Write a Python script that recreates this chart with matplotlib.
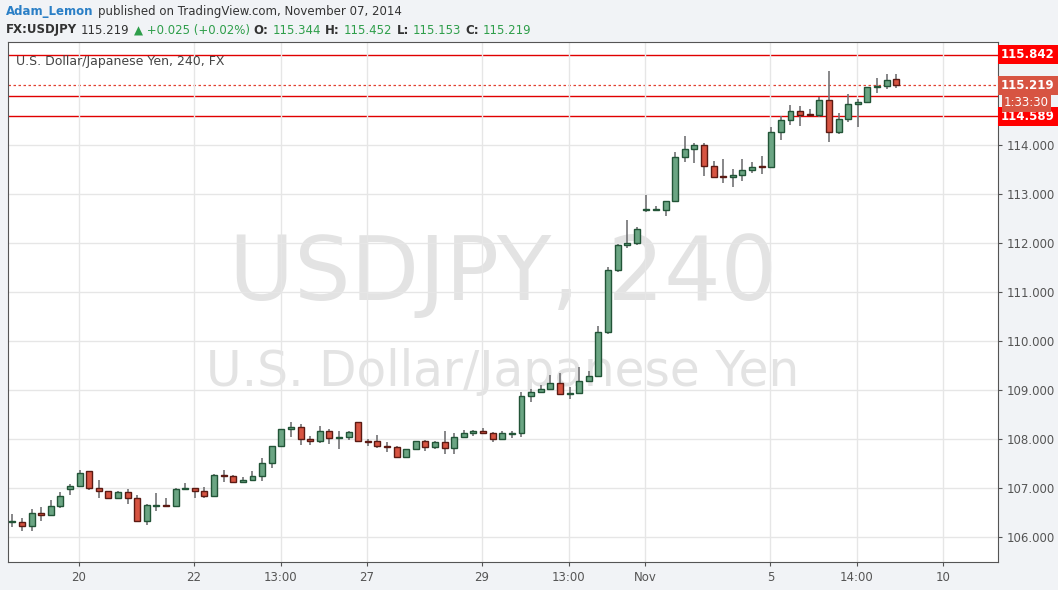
import matplotlib.pyplot as plt
import numpy as np

# OHLC candles (4h)
opens = [106.30, 106.30, 106.22, 106.48, 106.44, 106.63, 106.97, 107.04, 107.34, 106.99,
         106.93, 106.79, 106.91, 106.79, 106.32, 106.64, 106.66, 106.63, 106.97, 106.99,
         106.93, 106.83, 107.26, 107.24, 107.12, 107.16, 107.24, 107.50, 107.85, 108.20,
         108.24, 107.99, 107.95, 108.16, 108.01, 108.05, 108.34, 107.95, 107.95, 107.85,
         107.83, 107.63, 107.79, 107.95, 107.83, 107.93, 107.81, 108.05, 108.12, 108.16,
         108.12, 107.99, 108.11, 108.12, 108.87, 108.95, 109.03, 109.14, 108.91, 108.93,
         109.18, 109.28, 110.18, 111.45, 111.95, 112.00, 112.67, 112.67, 112.67, 112.86,
         113.76, 113.92, 114.00, 113.57, 113.36, 113.35, 113.39, 113.49, 113.55, 113.54,
         114.27, 114.51, 114.69, 114.62, 114.61, 114.92, 114.27, 114.53, 114.84, 114.88,
         115.18, 115.20, 115.34]
closes = [106.30, 106.22, 106.48, 106.44, 106.63, 106.83, 107.04, 107.30, 106.99, 106.93,
          106.79, 106.91, 106.79, 106.32, 106.65, 106.66, 106.63, 106.97, 106.99, 106.93,
          106.83, 107.26, 107.24, 107.12, 107.16, 107.24, 107.50, 107.85, 108.20, 108.24,
          107.99, 107.95, 108.16, 108.01, 108.05, 108.14, 107.95, 107.94, 107.85, 107.84,
          107.63, 107.79, 107.95, 107.83, 107.93, 107.81, 108.05, 108.12, 108.16, 108.12,
          107.99, 108.12, 108.12, 108.87, 108.95, 109.03, 109.14, 108.91, 108.93, 109.18,
          109.28, 110.18, 111.45, 111.95, 112.00, 112.29, 112.68, 112.68, 112.86, 113.76,
          113.92, 114.00, 113.57, 113.35, 113.34, 113.39, 113.49, 113.55, 113.54, 114.27,
          114.51, 114.69, 114.61, 114.61, 114.92, 114.27, 114.53, 114.84, 114.88, 115.18,
          115.20, 115.33, 115.22]
highs = [106.47, 106.39, 106.57, 106.61, 106.76, 106.91, 107.08, 107.37, 107.34, 107.16,
         106.94, 106.93, 106.98, 106.85, 106.67, 106.90, 106.80, 106.99, 107.10, 107.01,
         107.03, 107.28, 107.36, 107.26, 107.22, 107.34, 107.61, 107.85, 108.20, 108.34,
         108.30, 108.07, 108.26, 108.20, 108.16, 108.16, 108.34, 108.00, 108.08, 107.93,
         107.86, 107.79, 107.95, 107.98, 107.95, 108.16, 108.12, 108.18, 108.18, 108.22,
         108.14, 108.16, 108.16, 108.95, 109.01, 109.10, 109.31, 109.35, 109.07, 109.46,
         109.38, 110.31, 111.50, 111.98, 112.46, 112.32, 112.97, 112.76, 112.86, 113.86,
         114.19, 114.04, 114.03, 113.68, 113.72, 113.50, 113.71, 113.66, 113.78, 114.37,
         114.60, 114.82, 114.80, 114.74, 114.97, 115.50, 114.65, 115.03, 114.94, 115.18,
         115.37, 115.45, 115.45]
lows = [106.21, 106.13, 106.13, 106.33, 106.44, 106.59, 106.86, 107.04, 106.95, 106.80,
        106.79, 106.77, 106.68, 106.30, 106.24, 106.54, 106.61, 106.63, 106.95, 106.80,
        106.79, 106.83, 107.13, 107.10, 107.10, 107.14, 107.14, 107.41, 107.85, 108.05,
        107.87, 107.87, 107.91, 107.89, 107.79, 107.98, 107.95, 107.86, 107.81, 107.73,
        107.61, 107.63, 107.79, 107.76, 107.79, 107.70, 107.69, 108.02, 108.07, 108.12,
        107.93, 107.99, 108.01, 108.05, 108.75, 108.95, 109.03, 108.91, 108.81, 108.93,
        109.18, 109.26, 110.15, 111.40, 111.90, 111.96, 112.63, 112.66, 112.54, 112.86,
        113.65, 113.63, 113.37, 113.35, 113.23, 113.15, 113.26, 113.42, 113.40, 113.52,
        114.11, 114.41, 114.38, 114.59, 114.56, 114.05, 114.22, 114.46, 114.36, 114.85,
        115.05, 115.14, 115.16]

tick_pos = [6.94, 18.9, 27.96, 36.9, 48.9, 57.9, 65.9, 78.9, 87.9, 96.9]
tick_labels = ["20", "22", "13:00", "27", "29", "13:00", "Nov", "5", "14:00", "10"]
price_ticks = [106, 107, 108, 109, 110, 111, 112, 113, 114]
levels = [115.842, 114.99, 114.589]
last_price = 115.219

GREEN, GREEN_EDGE = "#6ba583", "#225437"
RED, RED_EDGE = "#d75442", "#5b1a13"
BG = "#f1f3f6"

fig = plt.figure(figsize=(10.58, 5.90), dpi=100, facecolor=BG)
ax = fig.add_axes([8 / 1058, 1 - 562 / 590, 990 / 1058, 520 / 590])
ax.set_facecolor("white")

x = np.arange(len(opens))
o, c, h, l = map(np.array, (opens, closes, highs, lows))
up = c >= o
ax.vlines(x, l, h, color="#737375", lw=1.2, zorder=2)
bottom = np.minimum(o, c)
height = np.maximum(np.abs(c - o), 0.02)
ax.bar(x[up], height[up], bottom=bottom[up], width=0.62, color=GREEN,
       edgecolor=GREEN_EDGE, lw=1, zorder=3)
ax.bar(x[~up], height[~up], bottom=bottom[~up], width=0.62, color=RED,
       edgecolor=RED_EDGE, lw=1, zorder=3)

for lv in levels:
    ax.axhline(lv, color="#e00000", lw=1, zorder=1)
ax.axhline(last_price, color="#e04030", lw=0.9, ls=(0, (2, 2)), zorder=1)

ax.set_xlim(-0.45, 102.6)
ax.set_ylim(105.49, 116.1)
ax.set_xticks(tick_pos)
ax.set_xticklabels(tick_labels)
ax.set_yticks(price_ticks)
ax.set_yticklabels([f"{p:.3f}" for p in price_ticks])
ax.yaxis.tick_right()
ax.tick_params(colors="#555555", labelsize=8.5, length=3)
ax.grid(color="#e6e6e6", lw=1, zorder=0)
for s in ax.spines.values():
    s.set_color("#555555")

# watermark
ax.text(0.5, 0.55, "USDJPY, 240", transform=ax.transAxes, ha="center", va="center",
        fontsize=64, color="#e3e3e3", zorder=0)
ax.text(0.5, 0.365, "U.S. Dollar/Japanese Yen", transform=ax.transAxes, ha="center",
        va="center", fontsize=35, color="#e3e3e3", zorder=0)
ax.text(0.008, 0.975, "U.S. Dollar/Japanese Yen, 240, FX", transform=ax.transAxes,
        va="top", fontsize=9, color="#444444")

# price boxes on the right
def price_box(val, text, color):
    ax.text(1.003, val, text, transform=ax.get_yaxis_transform(), va="center", ha="left",
            fontsize=8.5, color="white", fontweight="bold",
            bbox=dict(boxstyle="square,pad=0.25", fc=color, ec="none"), clip_on=False)

price_box(115.842, "115.842", "#ff0000")
price_box(114.589, "114.589", "#ff0000")
price_box(115.219, "115.219", "#d75442")
ax.text(1.006, 114.99, "1:33:30", transform=ax.get_yaxis_transform(), va="top",
        ha="left", fontsize=8.5, color="white",
        bbox=dict(boxstyle="square,pad=0.2", fc="#d75442", ec="none"), clip_on=False)

# header, pieces placed one after another
renderer = fig.canvas.get_renderer()

def header_line(parts, ypix):
    xpix = 6
    for t, col, bold in parts:
        txt = fig.text(xpix / 1058, 1 - ypix / 590, t, color=col, fontsize=8.5,
                       va="center", fontweight="bold" if bold else "normal")
        xpix += txt.get_window_extent(renderer).width + 4

G, K = "#2e9e4a", "#333333"
header_line([("Adam_Lemon", "#2a7fc6", True),
             ("published on TradingView.com, November 07, 2014", K, False)], 12)
header_line([("FX:USDJPY", K, True), ("115.219", K, False),
             ("▲ +0.025 (+0.02%)", G, False), ("O:", K, True), ("115.344", G, False),
             ("H:", K, True), ("115.452", G, False), ("L:", K, True),
             ("115.153", G, False), ("C:", K, True), ("115.219", G, False)], 30)

fig.savefig("out.png", dpi=100, facecolor=BG)
